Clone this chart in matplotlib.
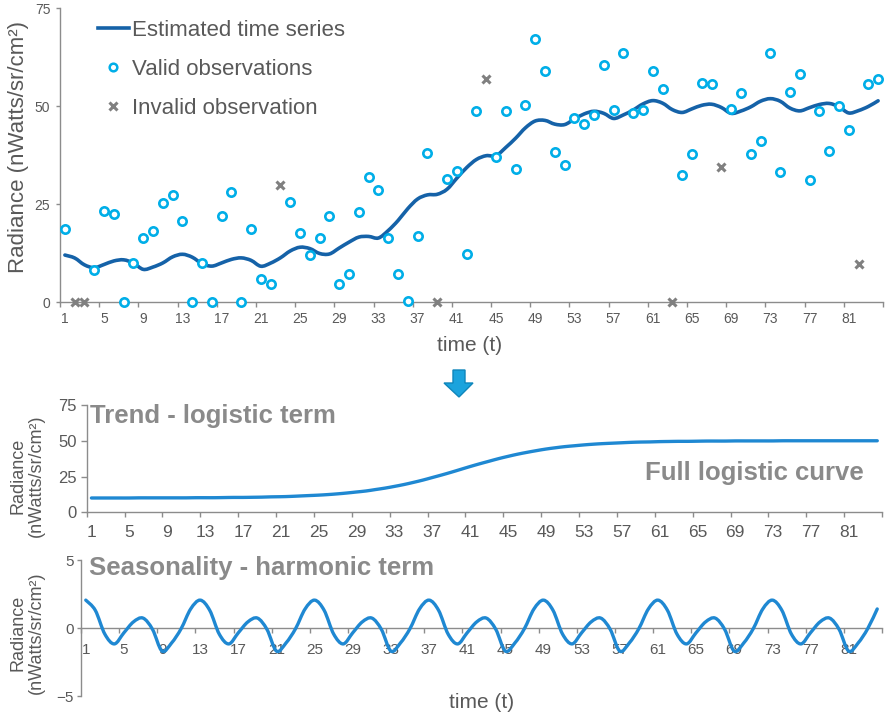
import numpy as np
import matplotlib
matplotlib.use('Agg')
import matplotlib.pyplot as plt
from matplotlib.patches import Polygon, PathPatch
from matplotlib.path import Path
from matplotlib.lines import Line2D

plt.rcParams['font.family'] = ['Liberation Sans', 'DejaVu Sans']

# time axis and tick labels
t = np.arange(1, 85)
x_tick_labels = [1, 5, 9, 13, 17, 21, 25, 29, 33, 37, 41, 45, 49, 53, 57, 61, 65, 69, 73, 77, 81]

# observed radiance for every time step (t = 1..84)
observed = [18.6, 0.0, 0.0, 8.2, 23.2, 22.5, 0.0, 10.1, 16.5, 18.2,
            25.4, 27.4, 20.7, 0.0, 10.1, 0.0, 22.0, 28.2, 0.0, 18.6,
            5.9, 4.7, 29.9, 25.6, 17.7, 12.1, 16.3, 22.1, 4.7, 7.2,
            23.1, 32.0, 28.7, 16.3, 7.2, 0.4, 16.8, 38.2, 0.0, 31.5,
            33.4, 12.3, 48.7, 57.0, 37.1, 48.9, 34.1, 50.4, 67.2, 59.0,
            38.3, 35.1, 46.9, 45.5, 47.8, 60.5, 49.1, 63.7, 48.2, 49.1,
            59.0, 54.4, 0.0, 32.4, 37.8, 56.0, 55.6, 34.6, 49.2, 53.3,
            37.8, 41.1, 63.5, 33.2, 53.6, 58.2, 31.3, 48.9, 38.7, 50.2,
            44.0, 9.8, 55.6, 57.0]
# time steps flagged as invalid
invalid_t = [2, 3, 23, 39, 44, 63, 68, 82]

# trend (logistic term)
trend = [10.0, 10.0, 10.0, 10.0, 10.0, 10.1, 10.1, 10.1, 10.1, 10.1,
         10.1, 10.2, 10.2, 10.2, 10.3, 10.4, 10.4, 10.5, 10.6, 10.8,
         10.9, 11.1, 11.4, 11.7, 12.0, 12.4, 12.9, 13.5, 14.2, 14.9,
         15.9, 16.9, 18.1, 19.4, 20.9, 22.5, 24.3, 26.1, 28.0, 30.0,
         32.0, 33.9, 35.7, 37.5, 39.1, 40.6, 41.9, 43.1, 44.2, 45.1,
         45.9, 46.5, 47.1, 47.6, 48.0, 48.3, 48.6, 48.9, 49.1, 49.2,
         49.4, 49.5, 49.6, 49.6, 49.7, 49.8, 49.8, 49.8, 49.9, 49.9,
         49.9, 49.9, 49.9, 50.0, 50.0, 50.0, 50.0, 50.0, 50.0, 50.0,
         50.0, 50.0, 50.0, 50.0]

# one yearly cycle of the seasonal (harmonic) term, repeats every 12 steps
season_cycle = [2.05, 1.3, -0.45, -1.17, -0.35, 0.45, 0.73, -0.1, -1.7, -1.1, -0.05, 1.4]
season = np.tile(season_cycle, 7)

# the estimated series is trend + seasonality
estimated = np.array(trend) + season

observed = np.array(observed)
is_invalid = np.isin(t, invalid_t)

TXT = '#595959'
AXIS = '#8c8c8c'
TITLE = '#8a8a8a'
DARK_BLUE = '#1562a8'
CYAN = '#00aee8'
LINE_BLUE = '#1f88d2'

fig = plt.figure(figsize=(8.88, 7.26), dpi=100)


def fx(px):
    return px / 888


def fy(py):
    return 1 - py / 726


def px_axes(left, top, right, bottom):
    return fig.add_axes([fx(left), fy(bottom), (right - left) / 888, (bottom - top) / 726])


def style(ax, xsize, ysize, xpad, ypad, ylen):
    for s in ['top', 'right']:
        ax.spines[s].set_visible(False)
    for s in ['left', 'bottom']:
        ax.spines[s].set_color(AXIS)
        ax.spines[s].set_linewidth(1)
    ax.set_xlim(0.5, 84.5)
    ax.set_xticks(x_tick_labels)
    ax.set_xticks(np.arange(0.5, 85, 4), minor=True)
    ax.tick_params(axis='x', which='major', length=0, pad=xpad, labelsize=xsize, labelcolor=TXT)
    ax.tick_params(axis='x', which='minor', length=3.5, width=1, color=AXIS, direction='out')
    ax.tick_params(axis='y', length=ylen, width=1, color=AXIS, pad=ypad, labelsize=ysize, labelcolor=TXT)


# smoothed line like Excel's "smoothed line" option (bezier through the data points)
def smooth_line(ax, x, y, color, lw, zorder=2):
    pts = np.column_stack([x, y])
    n = len(pts)
    verts = [pts[0]]
    codes = [Path.MOVETO]
    for i in range(n - 1):
        p0 = pts[i - 1] if i > 0 else pts[i]
        p1 = pts[i]
        p2 = pts[i + 1]
        p3 = pts[i + 2] if i + 2 < n else pts[i + 1]
        verts += [p1 + (p2 - p0) / 6, p2 - (p3 - p1) / 6, p2]
        codes += [Path.CURVE4] * 3
    patch = PathPatch(Path(verts, codes), fill=False, edgecolor=color, lw=lw,
                      capstyle='round', joinstyle='round', zorder=zorder, clip_on=False)
    ax.add_patch(patch)


# top panel: observations and estimated series
ax1 = px_axes(60, 8.3, 883, 302.3)
style(ax1, 10, 10, 7, 4, 3)
ax1.set_ylim(0, 75)
ax1.set_yticks([0, 25, 50, 75])
smooth_line(ax1, t, estimated, DARK_BLUE, 2.6)
ax1.plot(t[~is_invalid], observed[~is_invalid], 'o', ms=6, mfc='white', mec=CYAN, mew=1.9,
         clip_on=False, zorder=3)
ax1.plot(t[is_invalid], observed[is_invalid], 'x', ms=5.5, mec='#808080', mew=2.2,
         clip_on=False, zorder=3)
handles = [Line2D([], [], color=DARK_BLUE, lw=2.6),
           Line2D([], [], ls='none', marker='o', ms=5.5, mfc='white', mec=CYAN, mew=1.8),
           Line2D([], [], ls='none', marker='x', ms=5.5, mec='#808080', mew=2.2)]
labels = ['Estimated time series', 'Valid observations', 'Invalid observation']
leg = ax1.legend(handles, labels, loc='upper left', bbox_to_anchor=(0.046, 0.96), frameon=False,
                 fontsize=16, handlelength=1.4, handletextpad=0.15, labelspacing=0.8,
                 borderpad=0, borderaxespad=0)
for txt in leg.get_texts():
    txt.set_color(TXT)
fig.text(fx(19), fy(147), 'Radiance (nWatts/sr/cm²)', rotation=90, ha='center', va='center',
         fontsize=16, color=TXT)
fig.text(fx(470), fy(345), 'time (t)', ha='center', va='center', fontsize=15, color=TXT)

# blue arrow between the panels
arrow = Polygon([(fx(453), fy(370)), (fx(465), fy(370)), (fx(465), fy(383)), (fx(473), fy(383)),
                 (fx(459), fy(397)), (fx(444), fy(383)), (fx(453), fy(383))],
                closed=True, transform=fig.transFigure, facecolor='#1ba3dd', edgecolor='#0f86bb', lw=1)
fig.patches.append(arrow)

# middle panel: trend
ax2 = px_axes(86.7, 405, 882, 512.3)
style(ax2, 12.5, 12, 9, 3, 4)
ax2.set_ylim(0, 75)
ax2.set_yticks([0, 25, 50, 75])
smooth_line(ax2, t, trend, LINE_BLUE, 2.4)
fig.text(fx(90), fy(416), 'Trend - logistic term', ha='left', va='center', fontsize=18.5,
         fontweight='bold', color=TITLE)
fig.text(fx(645), fy(473), 'Full logistic curve', ha='left', va='center', fontsize=18.5,
         fontweight='bold', color=TITLE)
fig.text(fx(27), fy(476), 'Radiance\n(nWatts/sr/cm²)', rotation=90, ha='center', va='center',
         fontsize=13, color=TXT, linespacing=1.1, multialignment='center')

# bottom panel: seasonality
ax3 = px_axes(81, 560, 882, 696)
style(ax3, 11, 11, 11, 2, 3)
ax3.spines['bottom'].set_position(('data', 0))
ax3.set_ylim(-5, 5)
ax3.set_yticks([-5, 0, 5])
smooth_line(ax3, t, season, LINE_BLUE, 2.4, zorder=3)
fig.text(fx(89), fy(568), 'Seasonality - harmonic term', ha='left', va='center', fontsize=18.5,
         fontweight='bold', color=TITLE)
fig.text(fx(27), fy(633), 'Radiance\n(nWatts/sr/cm²)', rotation=90, ha='center', va='center',
         fontsize=13, color=TXT, linespacing=1.1, multialignment='center')
fig.text(fx(482), fy(702), 'time (t)', ha='center', va='center', fontsize=15, color=TXT)

fig.savefig('out.png', dpi=100)
